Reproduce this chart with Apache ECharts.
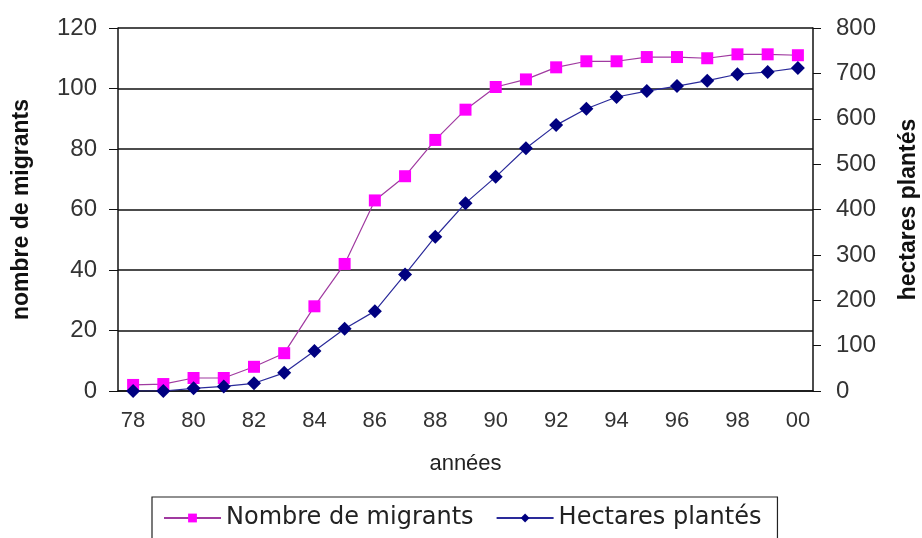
<!DOCTYPE html>
<html>
<head>
<meta charset="utf-8">
<script src="https://cdn.jsdelivr.net/npm/echarts@6/dist/echarts.min.js"></script>
<style>
  html, body { margin: 0; padding: 0; background: #fff; }
  #chart { width: 922px; height: 538px; }
</style>
</head>
<body>
<div id="chart"></div>
<script>
// annees 1978 -> 2000, deux series sur deux axes (migrants a gauche, hectares a droite)
var annees = ['78', '79', '80', '81', '82', '83', '84', '85', '86', '87', '88', '89',
  '90', '91', '92', '93', '94', '95', '96', '97', '98', '99', '00'];
var migrants = [2, 2.3, 4.3, 4.3, 8, 12.5, 28, 42, 63, 71, 83, 93,
  100.5, 103, 107, 109, 109, 110.4, 110.4, 110, 111.3, 111.3, 111];
var hectares = [0, 0, 6, 10, 17, 40, 88, 137, 176, 257, 340, 414,
  472, 535, 586, 622, 648, 661, 672, 684, 698, 703, 712];

var FONT = '"Liberation Sans", Arial, sans-serif';
var chart = echarts.init(document.getElementById('chart'));

chart.setOption({
  animation: false,
  textStyle: { fontFamily: FONT },
  grid: { left: 118, right: 109, top: 28, bottom: 147, outerBoundsMode: 'none' },
  legend: {
    left: 152, top: 497,
    padding: [9, 16, 20, 11],
    borderColor: '#222', borderWidth: 1.2,
    itemWidth: 57, itemHeight: 11, itemGap: 22,
    textStyle: { fontSize: 24, color: '#222', fontFamily: '"DejaVu Sans", sans-serif' },
    data: ['Nombre de migrants', 'Hectares plantés']
  },
  xAxis: {
    type: 'category',
    data: annees,
    name: 'années',
    nameLocation: 'middle',
    nameGap: 62,
    nameTextStyle: { fontSize: 22, color: '#222', fontFamily: FONT },
    axisLine: { lineStyle: { color: '#111', width: 1.5 } },
    axisTick: { interval: 0, length: 7, lineStyle: { color: '#111' } },
    axisLabel: { interval: 1, fontSize: 22, color: '#333', margin: 19 }
  },
  yAxis: [{
    type: 'value', min: 0, max: 120, interval: 20,
    name: 'nombre de migrants',
    nameLocation: 'middle',
    nameGap: 85,
    nameTextStyle: { fontSize: 23, fontWeight: 'bold', color: '#111', fontFamily: FONT },
    axisLine: { show: true, lineStyle: { color: '#111', width: 1.5 } },
    axisTick: { show: true, length: 9, lineStyle: { color: '#111' } },
    axisLabel: { fontSize: 24, color: '#333', margin: 21 },
    splitLine: { lineStyle: { color: '#111', width: 1.5 } }
  }, {
    type: 'value', min: 0, max: 800, interval: 100,
    name: 'hectares plantés',
    nameLocation: 'middle',
    nameGap: 84,
    nameRotate: 90,
    nameTextStyle: { fontSize: 23, fontWeight: 'bold', color: '#111', fontFamily: FONT },
    axisLine: { show: true, lineStyle: { color: '#111', width: 1.5 } },
    axisTick: { show: true, length: 8, lineStyle: { color: '#111' } },
    axisLabel: { fontSize: 24, color: '#333', margin: 23 },
    splitLine: { show: false }
  }],
  series: [{
    name: 'Nombre de migrants',
    type: 'line',
    yAxisIndex: 0,
    data: migrants,
    symbol: 'rect',
    symbolSize: 12,
    itemStyle: { color: '#ff00ff' },
    lineStyle: { color: '#a03aa0', width: 1.2 }
  }, {
    name: 'Hectares plantés',
    type: 'line',
    yAxisIndex: 1,
    data: hectares,
    symbol: 'diamond',
    symbolSize: 14,
    itemStyle: { color: '#000080' },
    lineStyle: { color: '#2a2a9a', width: 1.2 }
  }]
});
</script>
</body>
</html>
